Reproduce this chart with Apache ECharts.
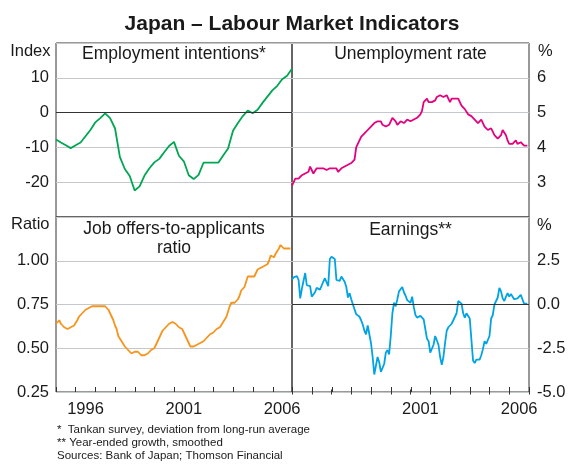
<!DOCTYPE html>
<html>
<head>
<meta charset="utf-8">
<title>Japan – Labour Market Indicators</title>
<script src="https://cdn.jsdelivr.net/npm/echarts@6/dist/echarts.min.js"></script>
<style>
  * { margin: 0; padding: 0; }
  html, body { width: 568px; height: 464px; background: #fff; }
  #main { width: 568px; height: 464px; }
</style>
</head>
<body>
<div id="main"></div>
<script>
// year bands along the bottom axes, and which of them get a label
var years = ['1995', '1996', '1997', '1998', '1999', '2000', '2001', '2002', '2003', '2004', '2005', '2006']
var leftYearLabels = ['1996', '2001', '2006']
var rightYearLabels = ['2001', '2006']

// Tankan employment intentions, quarterly from 1995 Q1 (index)
var employment = [
  -7.7, -8.6, -9.4, -10.2,
  -9.4, -8.6, -6.8, -5.0,
  -2.8, -1.6, -0.2, -1.6,
  -4.5, -12.8, -16.2, -18.2,
  -22.4, -21.2, -18.1, -16.0,
  -14.3, -13.3, -11.4, -9.6,
  -8.4, -12.4, -14.0, -18.0,
  -19.1, -17.9, -14.4, -14.4,
  -14.4, -14.4, -12.3, -10.3,
  -5.2, -3.0, -1.0, 0.6,
  -0.2, 0.8, 2.8, 4.6,
  6.4, 7.7, 9.6, 10.6,
  12.6
]

// unemployment rate, monthly from Jan 1995 (%)
var unemployment = [
  2.9, 3.0, 3.1, 3.05, 3.1, 3.15, 3.2, 3.2, 3.25, 3.3, 3.3, 3.45,
  3.45, 3.25, 3.3, 3.4, 3.4, 3.4, 3.45, 3.4, 3.35, 3.35, 3.35, 3.4,
  3.35, 3.4, 3.35, 3.4, 3.3, 3.25, 3.4, 3.4, 3.45, 3.5, 3.5, 3.5,
  3.55, 3.6, 3.65, 4.0, 4.1, 4.15, 4.3, 4.3, 4.4, 4.45, 4.5, 4.55,
  4.6, 4.65, 4.7, 4.75, 4.75, 4.8, 4.75, 4.65, 4.65, 4.6, 4.6, 4.65,
  4.7, 4.85, 4.8, 4.75, 4.65, 4.65, 4.75, 4.7, 4.7, 4.75, 4.8, 4.8,
  4.75, 4.75, 4.8, 4.85, 4.85, 4.9, 4.95, 5.05, 5.3, 5.35, 5.4, 5.3,
  5.25, 5.3, 5.35, 5.35, 5.45, 5.45, 5.5, 5.45, 5.45, 5.45, 5.5, 5.45,
  5.3, 5.4, 5.4, 5.4, 5.35, 5.4, 5.35, 5.2, 5.15, 5.1, 5.05, 4.95,
  4.9, 4.9, 4.85, 4.8, 4.75, 4.7, 4.65, 4.8, 4.7, 4.6, 4.55, 4.5,
  4.5, 4.55, 4.45, 4.35, 4.3, 4.25, 4.3, 4.35, 4.5, 4.45, 4.35, 4.2,
  4.1, 4.05, 4.1, 4.15, 4.2, 4.1, 4.1, 4.15, 4.1, 4.05, 4.1, 4.05
]

// job offers-to-applicants ratio, monthly from Jan 1995
var jobOffers = [
  0.64, 0.65, 0.66, 0.64, 0.63, 0.62, 0.61, 0.61, 0.62, 0.62, 0.63, 0.63,
  0.64, 0.66, 0.68, 0.69, 0.70, 0.71, 0.72, 0.72, 0.73, 0.73, 0.74, 0.74,
  0.74, 0.74, 0.74, 0.74, 0.74, 0.74, 0.74, 0.73, 0.72, 0.70, 0.68, 0.66,
  0.63, 0.61, 0.57, 0.56, 0.54, 0.53, 0.51, 0.50, 0.49, 0.48, 0.47, 0.47,
  0.48, 0.48, 0.48, 0.47, 0.46, 0.46, 0.46, 0.47, 0.47, 0.48, 0.49, 0.49,
  0.50, 0.52, 0.54, 0.56, 0.58, 0.60, 0.61, 0.62, 0.63, 0.64, 0.65, 0.65,
  0.65, 0.64, 0.63, 0.62, 0.61, 0.61, 0.59, 0.57, 0.55, 0.53, 0.51, 0.51,
  0.51, 0.51, 0.52, 0.52, 0.53, 0.53, 0.54, 0.55, 0.56, 0.57, 0.58, 0.58,
  0.59, 0.60, 0.61, 0.61, 0.62, 0.63, 0.65, 0.66, 0.68, 0.71, 0.74, 0.76,
  0.76, 0.76, 0.77, 0.78, 0.80, 0.83, 0.84, 0.85, 0.88, 0.91, 0.92, 0.91,
  0.90, 0.91, 0.93, 0.95, 0.95, 0.96, 0.97, 0.97, 0.98, 0.98, 1.00, 1.03,
  1.02, 1.02, 1.04, 1.05, 1.07, 1.09, 1.08, 1.07, 1.06, 1.07, 1.08, 1.07
]

// earnings, year-ended growth, smoothed, monthly from Jan 1995 (%)
var earnings = [
  1.43, 1.55, 1.63, 1.63, 1.4, 0.35, 0.9, 1.0, 1.8, 1.1, 1.0, 1.05,
  0.45, 0.4, 0.7, 0.95, 1.0, 0.85, 0.9, 1.3, 1.5, 1.5, 1.05, 2.6,
  2.73, 2.73, 2.6, 1.4, 1.35, 1.35, 1.6, 1.6, 1.3, 1.0, 0.4, 0.65,
  0.3, 0.0, -0.1, -0.55, -0.6, -0.7, -0.9, -1.15, -1.5, -1.7, -1.2, -1.1,
  -2.2, -3.0, -4.0, -3.5, -3.0, -3.3, -3.85, -3.85, -3.4, -2.75, -2.6, -2.85,
  -1.8, -0.5, 0.1, -0.1, 0.3, 0.75, 0.82, 1.0, 0.7, 0.5, 0.25, 0.15,
  0.1, 0.45, -0.15, -0.6, -0.75, -0.7, -0.65, -0.6, -0.85, -1.4, -1.95, -2.1,
  -2.75, -2.65, -2.3, -1.8, -1.7, -2.3, -3.0, -3.45, -3.0, -2.2, -1.5, -1.3,
  -1.2, -1.1, -0.9, -0.95, -0.5, 0.2, 0.25, 0.05, -0.5, -0.75, -0.5, -0.55,
  -0.8, -2.0, -3.2, -3.35, -3.15, -3.2, -3.15, -2.9, -2.55, -2.1, -2.25, -2.2,
  -1.8, -0.8, -0.6, 0.0, 0.1, 0.4, 0.95, 0.75, 0.35, 0.2, 0.45, 0.65,
  0.45, 0.6, 0.5, 0.3, 0.3, 0.35, 0.45, 0.55, 0.3, 0.05, -0.05, 0.05
]

var FONT = 'Liberation Sans, Arial, sans-serif'
var INK = '#1a1a1a'

function quarterly (values) {
  return values.map(function (v, i) { return [1995 + i / 4, v] })
}
function monthly (values) {
  return values.map(function (v, i) { return [1995 + i / 12, v] })
}

function text (str, x, y, align, size, bold, lineHeight) {
  return {
    text: str,
    left: x,
    top: y,
    padding: 0,
    textAlign: align,
    textStyle: {
      fontFamily: FONT,
      fontSize: size,
      fontWeight: bold ? 'bold' : 'normal',
      color: INK,
      lineHeight: lineHeight || size
    }
  }
}

// data axis: decimal years, drawn invisibly
function valueX (i) {
  return {
    type: 'value',
    gridIndex: i,
    min: 1995,
    max: 2007,
    interval: 1,
    show: false
  }
}

// tick axis on an overlay: one tick per year boundary
function tickX (i, count, side) {
  return {
    type: 'value',
    gridIndex: i,
    position: side,
    min: 0,
    max: count,
    interval: 1,
    axisLine: { show: false },
    axisLabel: { show: false },
    splitLine: { show: false },
    axisTick: { show: true, inside: true, length: 5, lineStyle: { color: '#333' } }
  }
}

// label axis (overlay grid): one band per year, label in the middle of the year
function labelX (i, shown) {
  return {
    type: 'category',
    gridIndex: i,
    position: 'bottom',
    data: years,
    boundaryGap: true,
    axisLine: { show: false },
    axisTick: { show: false },
    splitLine: { show: false },
    axisLabel: {
      interval: 0,
      formatter: function (v) { return shown.indexOf(v) >= 0 ? v : '' },
      margin: 9,
      fontFamily: FONT,
      fontSize: 16.5,
      color: INK
    }
  }
}

function valueY (i, min, max, step, side, fmt) {
  return {
    type: 'value',
    gridIndex: i,
    position: side,
    min: min,
    max: max,
    interval: step,
    axisLine: { show: false, onZero: false },
    axisTick: { show: false },
    splitLine: { show: true, lineStyle: { color: '#c4c8cc', width: 1 } },
    axisLabel: {
      margin: side === 'left' ? 7 : 8,
      fontFamily: FONT,
      fontSize: 16.5,
      color: INK,
      formatter: fmt
    }
  }
}

function blankY (i, min, max) {
  return { type: 'value', gridIndex: i, min: min || 0, max: max || 1, show: false }
}

var zeroLine = {
  silent: true,
  symbol: ['none', 'none'],
  label: { show: false },
  lineStyle: { color: '#333', type: 'solid', width: 1 },
  data: [{ yAxis: 0 }]
}

function line (xi, yi, data, color, mark) {
  var s = {
    type: 'line',
    xAxisIndex: xi,
    yAxisIndex: yi,
    data: data,
    showSymbol: false,
    lineStyle: { color: color, width: 1.8 },
    itemStyle: { color: color }
  }
  if (mark) s.markLine = zeroLine
  return s
}

var gridStyle = { show: true, borderColor: '#333', borderWidth: 1, containLabel: false, outerBoundsMode: 'none' }
var overlayStyle = { show: false, containLabel: false, outerBoundsMode: 'none' }

var myChart = echarts.init(document.getElementById('main'))
myChart.setOption({
  animation: false,
  backgroundColor: '#fff',
  title: [
    text('Japan – Labour Market Indicators', 292, 13.5, 'center', 21, true),
    text('Employment intentions*', 174, 45.5, 'center', 17.5),
    text('Unemployment rate', 410.5, 45.5, 'center', 17.5),
    text('Job offers-to-applicants\nratio', 174, 220, 'center', 17.5, false, 19),
    text('Earnings**', 410.5, 221, 'center', 17.5),
    text('Index', 50.5, 43.5, 'right', 16.5),
    text('%', 538, 43.5, 'left', 16.5),
    text('Ratio', 49.5, 216, 'right', 16.5),
    text('%', 537, 217, 'left', 16.5),
    text('*  Tankan survey, deviation from long-run average\n** Year-ended growth, smoothed\nSources: Bank of Japan; Thomson Financial',
      57, 423, 'left', 11.5, false, 13)
  ],
  grid: [
    Object.assign({ left: 56, top: 43, width: 236, height: 174 }, gridStyle),
    Object.assign({ left: 292, top: 43, width: 237, height: 174 }, gridStyle),
    Object.assign({ left: 56, top: 217, width: 236, height: 175 }, gridStyle),
    Object.assign({ left: 292, top: 217, width: 237, height: 175 }, gridStyle),
    // overlays: year labels per bottom panel, and the year ticks
    Object.assign({ left: 56, top: 217, width: 236, height: 175 }, overlayStyle),
    Object.assign({ left: 292, top: 217, width: 237, height: 175 }, overlayStyle),
    Object.assign({ left: 56, top: 217, width: 473, height: 175 }, overlayStyle),
    Object.assign({ left: 292, top: 387, width: 237, height: 5 }, overlayStyle)
  ],
  xAxis: [
    valueX(0), valueX(1), valueX(2), valueX(3),
    labelX(4, leftYearLabels), labelX(5, rightYearLabels),
    tickX(6, years.length * 2, 'bottom'),
    tickX(7, years.length, 'top')
  ],
  yAxis: [
    valueY(0, -30, 20, 10, 'left', function (v) { return (v === -30 || v === 20) ? '' : String(v) }),
    valueY(1, 2, 7, 1, 'right', function (v) { return (v === 2 || v === 7) ? '' : String(v) }),
    valueY(2, 0.25, 1.25, 0.25, 'left', function (v) { return v > 1.2 ? '' : v.toFixed(2) }),
    valueY(3, -5, 5, 2.5, 'right', function (v) { return v > 4.9 ? '' : v.toFixed(1) }),
    blankY(4), blankY(5), blankY(6), blankY(7, -1, 0)
  ],
  series: [
    line(0, 0, quarterly(employment), '#00a651', true),
    line(1, 1, monthly(unemployment), '#e5007d'),
    line(2, 2, monthly(jobOffers), '#f7941d'),
    line(3, 3, monthly(earnings), '#00a3e4', true)
  ]
})
</script>
</body>
</html>
